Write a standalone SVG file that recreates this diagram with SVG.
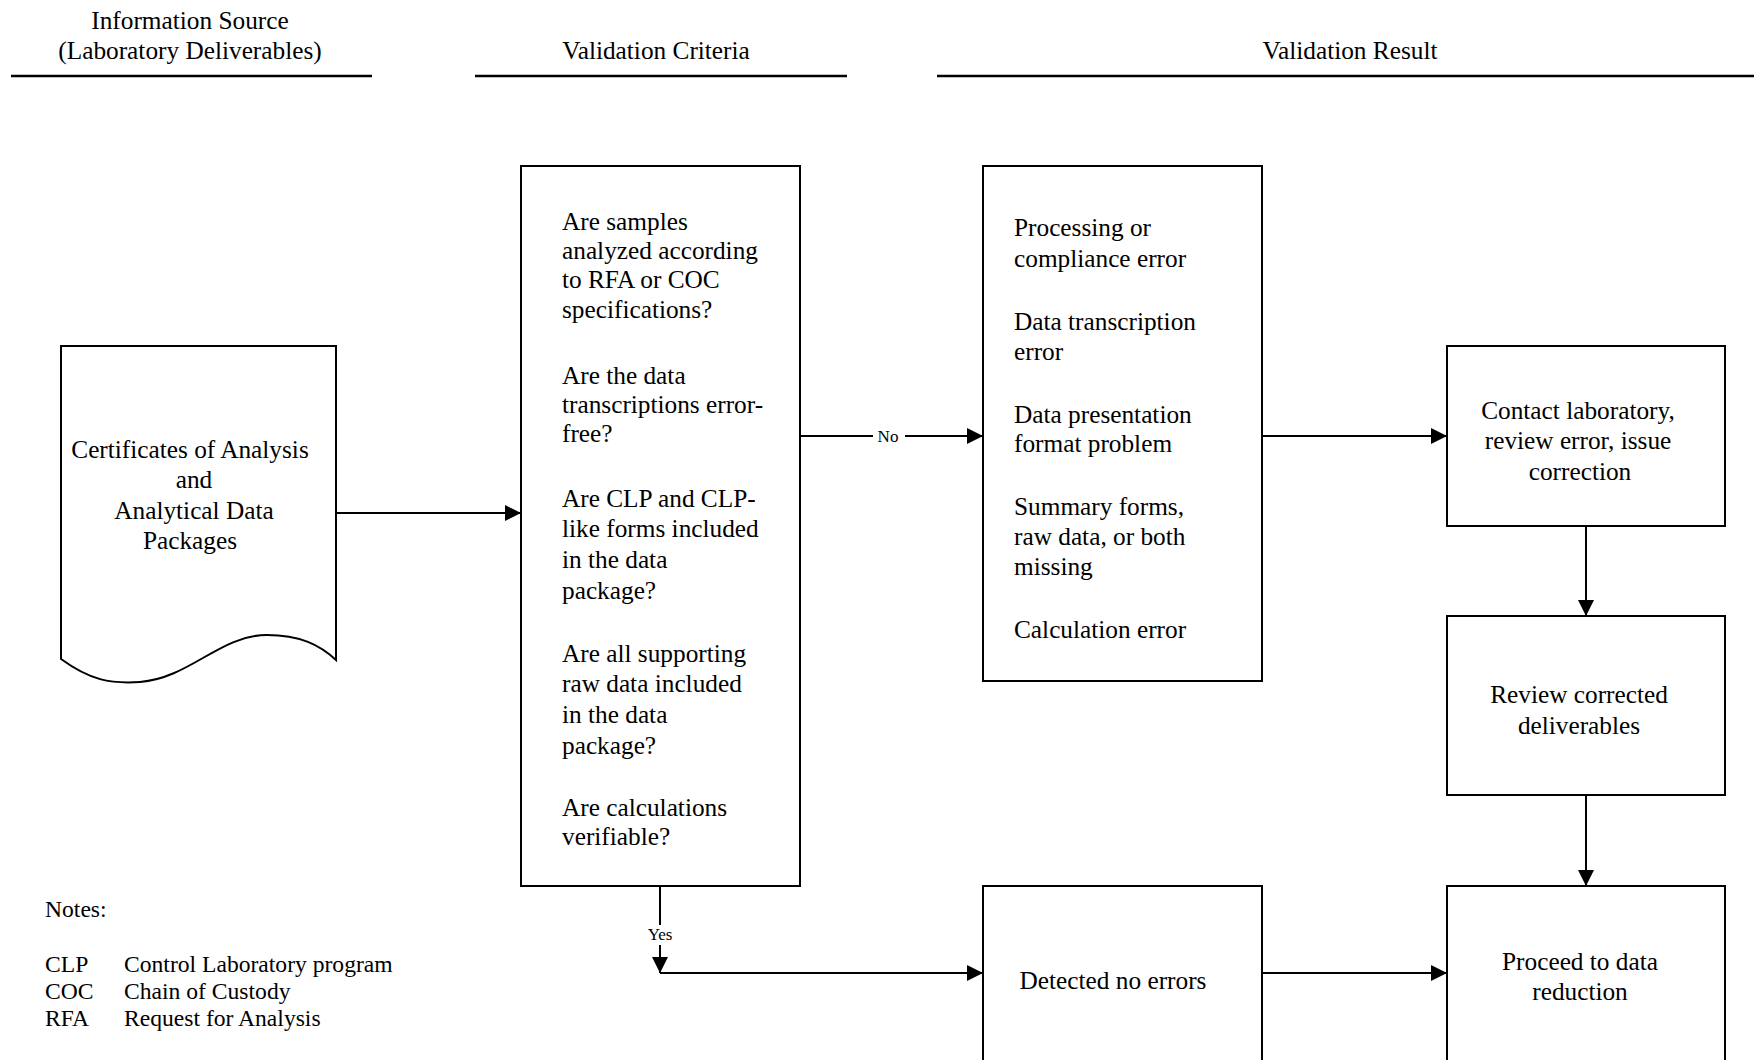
<svg xmlns="http://www.w3.org/2000/svg" width="1754" height="1060" viewBox="0 0 1754 1060">
<style>
text{font-family:"Liberation Serif","Times New Roman",serif;fill:#000;font-size:25.3px}
.c{text-anchor:middle}
.sm{font-size:17px}
.nt{font-size:23.6px}
.box{fill:#fff;stroke:#000;stroke-width:2}
.ln{fill:none;stroke:#000;stroke-width:2}
.hd{stroke:#000;stroke-width:2.6}
</style>
<defs>
<marker id="ah" markerUnits="userSpaceOnUse" markerWidth="18" markerHeight="16" refX="16" refY="8" orient="auto">
<path d="M0,0 L16,8 L0,16 Z" fill="#000"/>
</marker>
</defs>
<rect width="1754" height="1060" fill="#fff"/>
<g id="headers">
<text class="c" x="190" y="29">Information Source</text>
<text class="c" x="190" y="59">(Laboratory Deliverables)</text>
<line class="hd" x1="11" y1="76" x2="372" y2="76"/>
<text class="c" x="656" y="59">Validation Criteria</text>
<line class="hd" x1="475" y1="76" x2="847" y2="76"/>
<text class="c" x="1350" y="59">Validation Result</text>
<line class="hd" x1="937" y1="76" x2="1754" y2="76"/>
</g>
<g id="connectors">
<line class="ln" x1="336" y1="513" x2="521" y2="513" marker-end="url(#ah)"/>
<line class="ln" x1="800" y1="436" x2="873" y2="436"/>
<line class="ln" x1="905" y1="436" x2="983" y2="436" marker-end="url(#ah)"/>
<line class="ln" x1="1262" y1="436" x2="1447" y2="436" marker-end="url(#ah)"/>
<line class="ln" x1="1586" y1="526" x2="1586" y2="616" marker-end="url(#ah)"/>
<line class="ln" x1="1586" y1="795" x2="1586" y2="886" marker-end="url(#ah)"/>
<line class="ln" x1="660" y1="886" x2="660" y2="925"/>
<line class="ln" x1="660" y1="945" x2="660" y2="973" marker-end="url(#ah)"/>
<line class="ln" x1="660" y1="973" x2="983" y2="973" marker-end="url(#ah)"/>
<line class="ln" x1="1262" y1="973" x2="1447" y2="973" marker-end="url(#ah)"/>
<text class="c sm" x="888" y="442">No</text>
<text class="c sm" x="660" y="940">Yes</text>
</g>
<g id="source">
<path class="box" d="M61,346 H336 V660 C320,645 300,635 267,635 C220,635 190,678 140,682 C110,684 90,680 61,659 Z"/>
<text class="c" x="190" y="458">Certificates of Analysis</text>
<text class="c" x="194" y="488">and</text>
<text class="c" x="194" y="519">Analytical Data</text>
<text class="c" x="190" y="549">Packages</text>
</g>
<g id="criteria">
<rect class="box" x="521" y="166" width="279" height="720"/>
<text x="562" y="230">Are samples</text>
<text x="562" y="259">analyzed according</text>
<text x="562" y="288">to RFA or COC</text>
<text x="562" y="318">specifications?</text>
<text x="562" y="384">Are the data</text>
<text x="562" y="413">transcriptions error-</text>
<text x="562" y="442">free?</text>
<text x="562" y="507">Are CLP and CLP-</text>
<text x="562" y="537">like forms included</text>
<text x="562" y="568">in the data</text>
<text x="562" y="599">package?</text>
<text x="562" y="662">Are all supporting</text>
<text x="562" y="692">raw data included</text>
<text x="562" y="723">in the data</text>
<text x="562" y="754">package?</text>
<text x="562" y="816">Are calculations</text>
<text x="562" y="845">verifiable?</text>
</g>
<g id="errors">
<rect class="box" x="983" y="166" width="279" height="515"/>
<text x="1014" y="236">Processing or</text>
<text x="1014" y="267">compliance error</text>
<text x="1014" y="330">Data transcription</text>
<text x="1014" y="360">error</text>
<text x="1014" y="423">Data presentation</text>
<text x="1014" y="452">format problem</text>
<text x="1014" y="515">Summary forms,</text>
<text x="1014" y="545">raw data, or both</text>
<text x="1014" y="575">missing</text>
<text x="1014" y="638">Calculation error</text>
</g>
<g id="contact">
<rect class="box" x="1447" y="346" width="278" height="180"/>
<text class="c" x="1578" y="419">Contact laboratory,</text>
<text class="c" x="1578" y="449">review error, issue</text>
<text class="c" x="1580" y="480">correction</text>
</g>
<g id="review">
<rect class="box" x="1447" y="616" width="278" height="179"/>
<text class="c" x="1579" y="703">Review corrected</text>
<text class="c" x="1579" y="734">deliverables</text>
</g>
<g id="detected">
<rect class="box" x="983" y="886" width="279" height="190"/>
<text class="c" x="1113" y="989">Detected no errors</text>
</g>
<g id="proceed">
<rect class="box" x="1447" y="886" width="278" height="190"/>
<text class="c" x="1580" y="970">Proceed to data</text>
<text class="c" x="1580" y="1000">reduction</text>
</g>
<g id="notes">
<text class="nt" x="45" y="917">Notes:</text>
<text class="nt" x="45" y="972">CLP</text>
<text class="nt" x="124" y="972">Control Laboratory program</text>
<text class="nt" x="45" y="999">COC</text>
<text class="nt" x="124" y="999">Chain of Custody</text>
<text class="nt" x="45" y="1026">RFA</text>
<text class="nt" x="124" y="1026">Request for Analysis</text>
</g>
</svg>
